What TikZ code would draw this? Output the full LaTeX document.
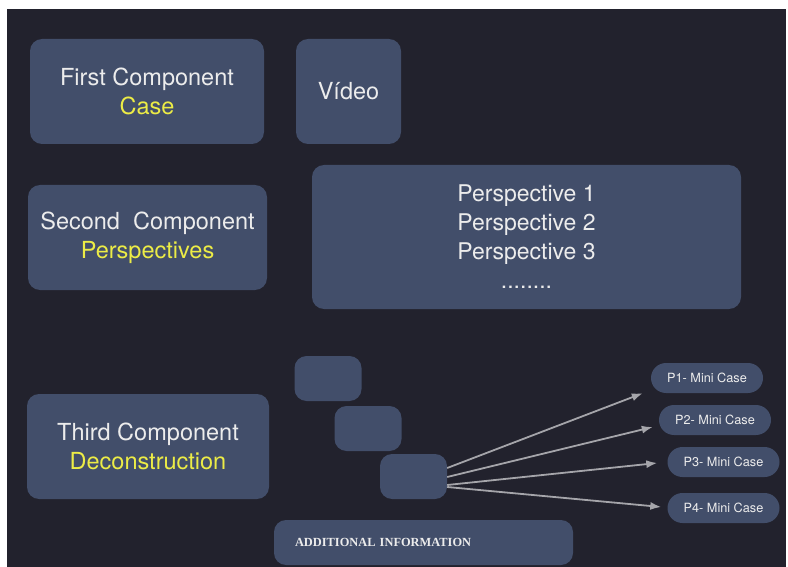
\documentclass[tikz,border=0pt]{standalone}
\usepackage{fontspec}
\setmainfont{TeX Gyre Heros}
\newfontfamily\infofont{Liberation Serif}
\usetikzlibrary{arrows.meta}
\definecolor{bgdark}{RGB}{34,34,45}
\definecolor{boxblue}{RGB}{66,78,106}
\definecolor{txtwhite}{RGB}{236,236,236}
\definecolor{txtyellow}{RGB}{236,236,70}
\definecolor{arrowgray}{RGB}{165,165,170}
\tikzset{
  panel/.style    = {shape=rectangle, rounded corners=12pt, fill=boxblue,
                     align=center, text=txtwhite, inner sep=0pt},
  component/.style = {panel, font=\fontsize{23.5}{29}\selectfont},
  blank/.style    = {panel, minimum width=67pt, minimum height=45pt},
  minicase/.style = {panel, rounded corners=15pt, minimum width=112pt,
                     minimum height=30pt, font=\fontsize{12.7}{15}\selectfont},
  fanout/.style   = {arrowgray, line width=1.8pt,
                     -{Latex[length=11pt,width=8pt]}}
}
\newcommand{\hl}[1]{\textcolor{txtyellow}{#1}}

\begin{document}
\begin{tikzpicture}[x=1pt,y=-1pt]
  \useasboundingbox (0,0) rectangle (788,567);
  \fill[white] (0,0) rectangle (788,567);
  \fill[bgdark] (7,9) rectangle (786,567);

  % components
  \node[component, minimum width=234pt, minimum height=105pt] (first)
    at (147,91.5) {First Component\\ \hl{Case}};
  \node[component, minimum width=105pt, minimum height=105pt] (video)
    at (348.5,91.5) {Vídeo};
  \node[component, minimum width=239pt, minimum height=105pt] (second)
    at (147.5,237.5) {Second\ \ Component\\ \hl{Perspectives}};
  \node[component, minimum width=429pt, minimum height=144pt,
        font=\fontsize{23}{29}\selectfont] (persp)
    at (526.5,237) {Perspective 1\\ Perspective 2\\ Perspective 3\\ ........};
  \node[component, minimum width=242pt, minimum height=105pt] (third)
    at (148,446.5) {Third Component\\ \hl{Deconstruction}};

  % steps
  \node[blank] (sa) at (328,378.5) {};
  \node[blank] (sb) at (368,428.5) {};
  \node[blank] (sc) at (413.5,476.5) {};
  \node[panel, minimum width=299pt, minimum height=45pt, text width=257pt,
        align=left, font=\infofont\bfseries\fontsize{12.4}{14}\selectfont] (info)
    at (423.5,542.5) {ADDITIONAL INFORMATION};

  % mini cases
  \node[minicase] (p1) at (707,378) {P1- Mini Case};
  \node[minicase] (p2) at (715,420) {P2- Mini Case};
  \node[minicase] (p3) at (723.5,462) {P3- Mini Case};
  \node[minicase] (p4) at (723.5,508) {P4- Mini Case};

  \draw[fanout] ([yshift=8.5pt]sc.east) -- ([xshift=-8pt]p1.south west);
  \draw[fanout] ([yshift=-0.5pt]sc.east) -- ([xshift=-6pt,yshift=-7pt]p2.west);
  \draw[fanout] ([yshift=-8.5pt]sc.east) -- ([xshift=-10pt,yshift=-1pt]p3.west);
  \draw[fanout] ([yshift=-10.5pt]sc.east) -- ([xshift=-6pt,yshift=1pt]p4.west);
\end{tikzpicture}
\end{document}
